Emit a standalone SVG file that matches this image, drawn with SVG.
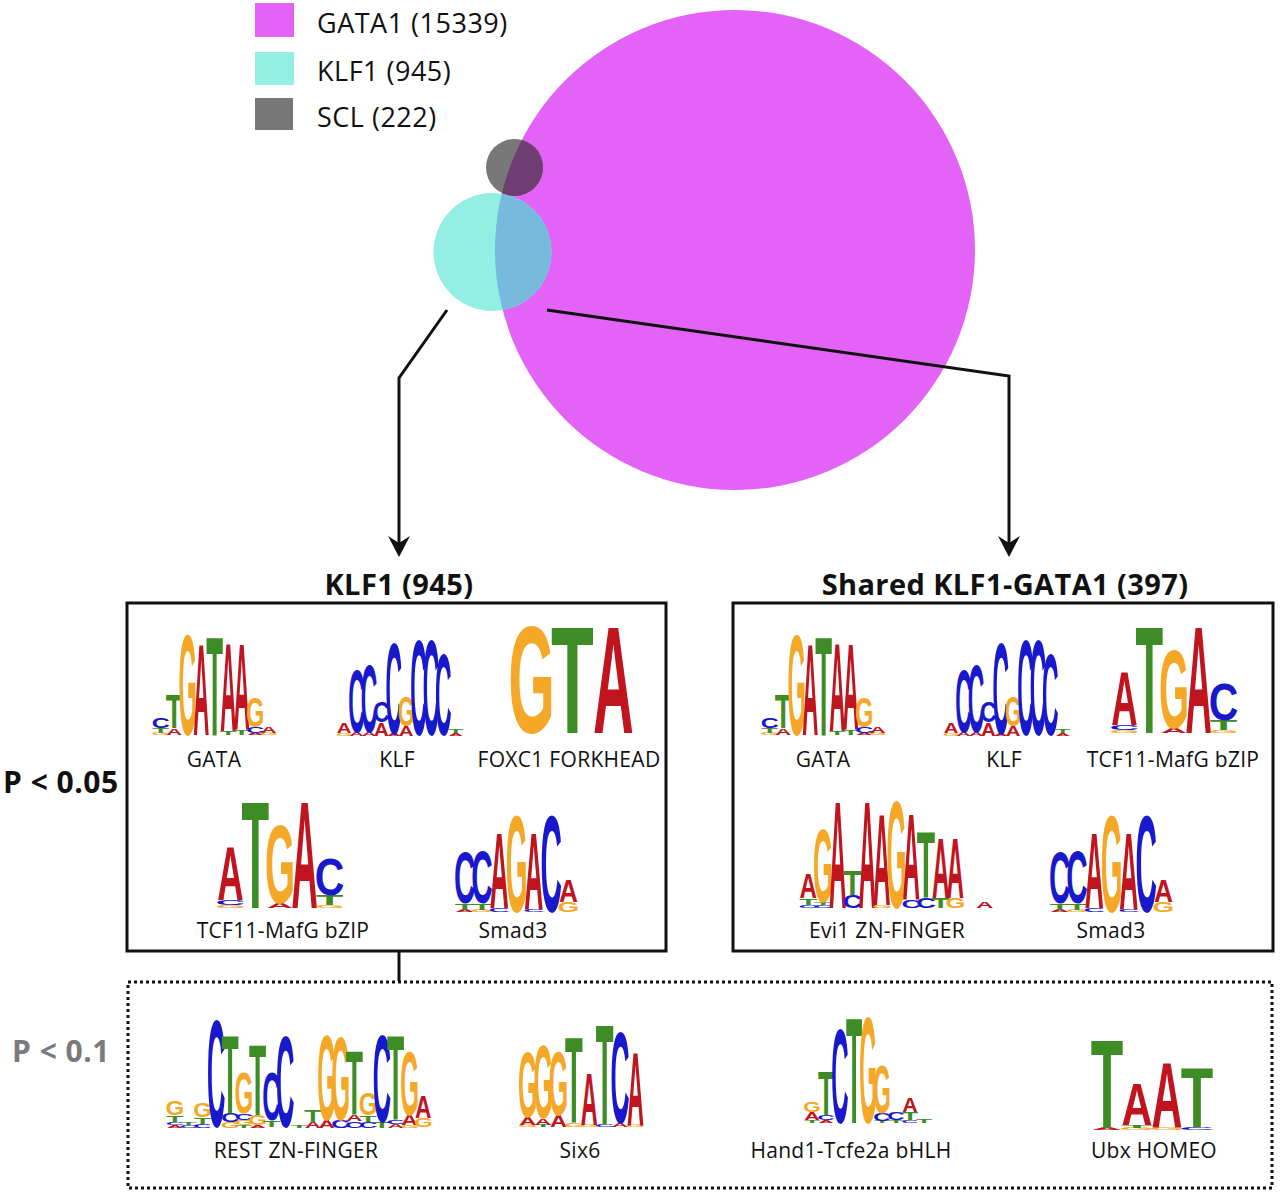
<svg xmlns="http://www.w3.org/2000/svg" xmlns:xlink="http://www.w3.org/1999/xlink" width="1280" height="1192" viewBox="0 0 1280 1192">
<style>
.lg text{font-family:'Liberation Sans',Arial,sans-serif;font-weight:bold;font-size:100px;text-anchor:middle}
.a{fill:#c0141e}.c{fill:#1818cc}.g{fill:#f5a828}.t{fill:#3d8c26}
.lbl{font-family:'Open Sans','Liberation Sans',sans-serif;font-size:21px;letter-spacing:0.3px;fill:#111;text-anchor:middle}
.leg{font-family:'Open Sans','Liberation Sans',sans-serif;font-size:27px;letter-spacing:0.5px;fill:#111}
.ttl{font-family:'Open Sans','Liberation Sans',sans-serif;font-weight:bold;font-size:29px;letter-spacing:0.4px;fill:#111;text-anchor:middle}
.pv{font-family:'Open Sans','Liberation Sans',sans-serif;font-weight:bold;font-size:30px;letter-spacing:0.5px}
.box{fill:none;stroke:#111;stroke-width:3}
.conn path{fill:none;stroke:#111;stroke-width:3}
</style>
<defs>
<marker id="arr" markerUnits="userSpaceOnUse" markerWidth="30" markerHeight="30" viewBox="-25 -15 30 30" refX="-9" refY="0" orient="auto">
<path d="M0 0 L-21 -11 L-14 0 L-21 11 Z" fill="#111"/>
</marker>
<clipPath id="clipG"><circle cx="735" cy="250" r="240"/></clipPath>
<g id="lgGATA" class="lg">
<text class="g" transform="translate(6.75 0) scale(.235 .028)">G</text>
<text class="t" transform="translate(6.75 -2) scale(.275 .069)">T</text>
<text class="c" transform="translate(6.75 -7) scale(.25 .139)">C</text>
<text class="a" transform="translate(20.25 0) scale(.222 .097)">A</text>
<text class="t" transform="translate(20.25 -7) scale(.275 .486)">T</text>
<text class="g" transform="translate(33.75 0) scale(.235 1.431)">G</text>
<text class="a" transform="translate(47.25 0) scale(.222 1.292)">A</text>
<text class="t" transform="translate(60.75 0) scale(.275 1.417)">T</text>
<text class="t" transform="translate(74.25 0) scale(.275 .056)">T</text>
<text class="a" transform="translate(74.25 -4) scale(.222 1.264)">A</text>
<text class="t" transform="translate(87.75 0) scale(.275 .069)">T</text>
<text class="a" transform="translate(87.75 -5) scale(.222 1.222)">A</text>
<text class="a" transform="translate(101.25 0) scale(.222 .028)">A</text>
<text class="c" transform="translate(101.25 -2) scale(.25 .083)">C</text>
<text class="g" transform="translate(101.25 -8) scale(.235 .431)">G</text>
<text class="g" transform="translate(114.75 0) scale(.235 .028)">G</text>
<text class="a" transform="translate(114.75 -2) scale(.222 .097)">A</text>
</g>
<g id="lgKLF" class="lg">
<text class="g" transform="translate(6.2 0) scale(.216 .042)">G</text>
<text class="a" transform="translate(6.2 -3) scale(.204 .139)">A</text>
<text class="a" transform="translate(18.6 0) scale(.204 .056)">A</text>
<text class="c" transform="translate(18.6 -4) scale(.23 .889)">C</text>
<text class="a" transform="translate(31 0) scale(.204 .056)">A</text>
<text class="c" transform="translate(31 -4) scale(.23 .972)">C</text>
<text class="a" transform="translate(43.4 0) scale(.204 .181)">A</text>
<text class="c" transform="translate(43.4 -14) scale(.23 .292)">C</text>
<text class="a" transform="translate(55.8 0) scale(.204 .028)">A</text>
<text class="c" transform="translate(55.8 -2) scale(.23 1.306)">C</text>
<text class="a" transform="translate(68.2 0) scale(.204 .139)">A</text>
<text class="g" transform="translate(68.2 -10) scale(.216 .431)">G</text>
<text class="c" transform="translate(80.6 -1) scale(.23 1.361)">C</text>
<text class="c" transform="translate(93 -1) scale(.23 1.361)">C</text>
<text class="c" transform="translate(105.4 -1) scale(.23 1.153)">C</text>
<text class="a" transform="translate(117.8 0) scale(.204 .042)">A</text>
<text class="t" transform="translate(117.8 -3) scale(.253 .056)">T</text>
</g>
<g id="lgTCF" class="lg">
<text class="g" transform="translate(12.4 0) scale(.386 .042)">G</text>
<text class="c" transform="translate(12.4 -3) scale(.410 .069)">C</text>
<text class="a" transform="translate(12.4 -8) scale(.365 .764)">A</text>
<text class="t" transform="translate(37.2 0) scale(.452 1.528)">T</text>
<text class="a" transform="translate(62 0) scale(.365 .069)">A</text>
<text class="g" transform="translate(62 -5) scale(.386 1.111)">G</text>
<text class="a" transform="translate(86.8 0) scale(.365 1.528)">A</text>
<text class="g" transform="translate(111.6 0) scale(.386 .042)">G</text>
<text class="t" transform="translate(111.6 -3) scale(.452 .139)">T</text>
<text class="c" transform="translate(111.6 -13) scale(.410 .514)">C</text>
</g>
<g id="lgSMAD" class="lg">
<text class="a" transform="translate(8.65 0) scale(.263 .028)">A</text>
<text class="t" transform="translate(8.65 -2) scale(.327 .097)">T</text>
<text class="c" transform="translate(8.65 -9) scale(.297 .722)">C</text>
<text class="g" transform="translate(25.95 0) scale(.279 .028)">G</text>
<text class="t" transform="translate(25.95 -2) scale(.327 .097)">T</text>
<text class="c" transform="translate(25.95 -9) scale(.297 .75)">C</text>
<text class="c" transform="translate(43.25 0) scale(.297 .056)">C</text>
<text class="a" transform="translate(43.25 -4) scale(.263 1.083)">A</text>
<text class="g" transform="translate(60.55 0) scale(.279 1.375)">G</text>
<text class="c" transform="translate(77.85 0) scale(.297 .042)">C</text>
<text class="a" transform="translate(77.85 -3) scale(.263 1.097)">A</text>
<text class="c" transform="translate(95.15 0) scale(.297 1.375)">C</text>
<text class="g" transform="translate(112.45 0) scale(.279 .139)">G</text>
<text class="a" transform="translate(112.45 -10) scale(.263 .306)">A</text>
</g>
</defs>
<rect width="1280" height="1192" fill="#fff"/>

<g id="venn">
<circle cx="735" cy="250" r="240" fill="#e363f6"/>
<circle cx="492.5" cy="252" r="59" fill="#93eee4"/>
<circle cx="514.5" cy="167.5" r="28.5" fill="#787878"/>
<circle cx="492.5" cy="252" r="59" fill="#78b9de" clip-path="url(#clipG)"/>
<circle cx="514.5" cy="167.5" r="28.5" fill="#6e3e73" clip-path="url(#clipG)"/>
</g>

<g id="legend">
<rect x="255" y="3" width="39" height="34" fill="#e363f6"/>
<rect x="255" y="52" width="39" height="33" fill="#93eee4"/>
<rect x="255" y="98" width="38" height="32" fill="#787878"/>
<text class="leg" x="317" y="33">GATA1 (15339)</text>
<text class="leg" x="317" y="81">KLF1 (945)</text>
<text class="leg" x="317" y="127">SCL (222)</text>
</g>

<g class="conn" id="connectors">
<path d="M447 310 L399 378 L399 548" marker-end="url(#arr)"/>
<path d="M547 310 L1009 376 L1009 548" marker-end="url(#arr)"/>
<path d="M399 952 L399 981"/>
</g>

<g id="klf1-box">
<text class="ttl" x="399" y="595">KLF1 (945)</text>
<rect class="box" x="127" y="603" width="539" height="348"/>
<use xlink:href="#lgGATA" x="154" y="735"/>
<use xlink:href="#lgKLF" x="338" y="736"/>
<g class="lg" transform="translate(511 733)">
<text class="g" transform="translate(20.5 0) scale(.6 1.528)">G</text>
<text class="t" transform="translate(61.5 0) scale(.70 1.528)">T</text>
<text class="a" transform="translate(102.5 0) scale(.565 1.528)">A</text>
</g>
<use xlink:href="#lgTCF" x="218" y="908"/>
<use xlink:href="#lgSMAD" x="456" y="912"/>
<text class="lbl" x="214" y="767">GATA</text>
<text class="lbl" x="397" y="767">KLF</text>
<text class="lbl" x="569" y="767">FOXC1 FORKHEAD</text>
<text class="lbl" x="283" y="938">TCF11-MafG bZIP</text>
<text class="lbl" x="513" y="938">Smad3</text>
</g>

<g id="shared-box">
<text class="ttl" x="1005" y="595">Shared KLF1-GATA1 (397)</text>
<rect class="box" x="733" y="603" width="540" height="348"/>
<use xlink:href="#lgGATA" x="763" y="735"/>
<use xlink:href="#lgKLF" x="945" y="736"/>
<use xlink:href="#lgTCF" x="1112" y="733"/>
<g class="lg" transform="translate(801 908)">
<text class="c" transform="translate(7.35 0) scale(.272 .042)">C</text>
<text class="t" transform="translate(7.35 -3) scale(.30 .097)">T</text>
<text class="a" transform="translate(7.35 -10) scale(.242 .347)">A</text>
<text class="c" transform="translate(22.05 0) scale(.272 .042)">C</text>
<text class="t" transform="translate(22.05 -3) scale(.30 .042)">T</text>
<text class="g" transform="translate(22.05 -6) scale(.256 1.042)">G</text>
<text class="a" transform="translate(36.75 0) scale(.242 1.528)">A</text>
<text class="c" transform="translate(51.45 0) scale(.272 .181)">C</text>
<text class="t" transform="translate(51.45 -13) scale(.30 .347)">T</text>
<text class="a" transform="translate(66.15 0) scale(.242 1.528)">A</text>
<text class="g" transform="translate(80.85 0) scale(.256 .042)">G</text>
<text class="a" transform="translate(80.85 -3) scale(.242 1.292)">A</text>
<text class="g" transform="translate(95.55 0) scale(.256 1.528)">G</text>
<text class="c" transform="translate(110.25 0) scale(.272 .111)">C</text>
<text class="a" transform="translate(110.25 -8) scale(.242 1.222)">A</text>
<text class="c" transform="translate(124.95 0) scale(.272 .139)">C</text>
<text class="t" transform="translate(124.95 -10) scale(.30 .944)">T</text>
<text class="t" transform="translate(139.65 0) scale(.30 .139)">T</text>
<text class="a" transform="translate(139.65 -10) scale(.242 .847)">A</text>
<text class="g" transform="translate(154.35 0) scale(.256 .139)">G</text>
<text class="a" transform="translate(154.35 -10) scale(.242 .847)">A</text>
<text class="a" transform="translate(183.75 0) scale(.242 .083)">A</text>
</g>
<use xlink:href="#lgSMAD" x="1051" y="912"/>
<text class="lbl" x="823" y="767">GATA</text>
<text class="lbl" x="1004" y="767">KLF</text>
<text class="lbl" x="1173" y="767">TCF11-MafG bZIP</text>
<text class="lbl" x="887" y="938">Evi1 ZN-FINGER</text>
<text class="lbl" x="1111" y="938">Smad3</text>
</g>

<g id="p01-box">
<rect x="128" y="982" width="1144" height="206" fill="none" stroke="#111" stroke-width="3" stroke-dasharray="3 3"/>
<g class="lg" transform="translate(168 1128)">
<text class="a" transform="translate(6.9 0) scale(.228 .042)">A</text>
<text class="c" transform="translate(6.9 -3) scale(.255 .042)">C</text>
<text class="t" transform="translate(6.9 -6) scale(.282 .097)">T</text>
<text class="g" transform="translate(6.9 -13) scale(.241 .208)">G</text>
<text class="c" transform="translate(20.7 0) scale(.255 .042)">C</text>
<text class="t" transform="translate(20.7 -3) scale(.282 .042)">T</text>
<text class="c" transform="translate(34.5 0) scale(.255 .056)">C</text>
<text class="t" transform="translate(34.5 -4) scale(.282 .097)">T</text>
<text class="g" transform="translate(34.5 -11) scale(.241 .208)">G</text>
<text class="c" transform="translate(48.3 -1) scale(.255 1.528)">C</text>
<text class="g" transform="translate(62.1 0) scale(.241 .083)">G</text>
<text class="c" transform="translate(62.1 -6) scale(.255 .125)">C</text>
<text class="t" transform="translate(62.1 -15) scale(.282 1.111)">T</text>
<text class="t" transform="translate(75.9 0) scale(.282 .042)">T</text>
<text class="g" transform="translate(75.9 -3) scale(.241 .069)">G</text>
<text class="c" transform="translate(75.9 -8) scale(.255 .097)">C</text>
<text class="g" transform="translate(75.9 -15) scale(.241 .569)">G</text>
<text class="a" transform="translate(89.7 0) scale(.228 .042)">A</text>
<text class="g" transform="translate(89.7 -3) scale(.241 .139)">G</text>
<text class="t" transform="translate(89.7 -13) scale(.282 1.0)">T</text>
<text class="t" transform="translate(103.5 -1) scale(.282 .097)">T</text>
<text class="c" transform="translate(103.5 -8) scale(.255 .694)">C</text>
<text class="c" transform="translate(117.3 -1) scale(.255 1.306)">C</text>
<text class="t" transform="translate(131.1 0) scale(.282 .028)">T</text>
<text class="a" transform="translate(144.9 0) scale(.228 .083)">A</text>
<text class="t" transform="translate(144.9 -6) scale(.282 .167)">T</text>
<text class="a" transform="translate(158.7 0) scale(.228 .111)">A</text>
<text class="g" transform="translate(158.7 -8) scale(.241 1.208)">G</text>
<text class="c" transform="translate(172.5 0) scale(.255 .111)">C</text>
<text class="g" transform="translate(172.5 -8) scale(.241 1.181)">G</text>
<text class="c" transform="translate(186.3 0) scale(.255 .097)">C</text>
<text class="a" transform="translate(186.3 -7) scale(.228 .083)">A</text>
<text class="t" transform="translate(186.3 -13) scale(.282 .903)">T</text>
<text class="c" transform="translate(200.1 0) scale(.255 .083)">C</text>
<text class="t" transform="translate(200.1 -6) scale(.282 .097)">T</text>
<text class="g" transform="translate(200.1 -13) scale(.241 .306)">G</text>
<text class="t" transform="translate(213.9 0) scale(.282 .083)">T</text>
<text class="c" transform="translate(213.9 -6) scale(.255 1.25)">C</text>
<text class="a" transform="translate(227.7 0) scale(.228 .056)">A</text>
<text class="c" transform="translate(227.7 -4) scale(.255 .056)">C</text>
<text class="t" transform="translate(227.7 -8) scale(.282 1.208)">T</text>
<text class="g" transform="translate(241.5 0) scale(.241 .042)">G</text>
<text class="a" transform="translate(241.5 -3) scale(.228 .139)">A</text>
<text class="g" transform="translate(241.5 -13) scale(.241 .903)">G</text>
<text class="g" transform="translate(255.3 -1) scale(.241 .125)">G</text>
<text class="a" transform="translate(255.3 -10) scale(.228 .319)">A</text>
</g>
<g class="lg" transform="translate(520 1127)">
<text class="g" transform="translate(7.7 0) scale(.249 .028)">G</text>
<text class="a" transform="translate(7.7 -2) scale(.235 .111)">A</text>
<text class="g" transform="translate(7.7 -10) scale(.249 .931)">G</text>
<text class="t" transform="translate(23.1 0) scale(.291 .028)">T</text>
<text class="a" transform="translate(23.1 -2) scale(.235 .097)">A</text>
<text class="g" transform="translate(23.1 -9) scale(.249 1.042)">G</text>
<text class="a" transform="translate(38.5 0) scale(.235 .167)">A</text>
<text class="g" transform="translate(38.5 -12) scale(.249 .903)">G</text>
<text class="g" transform="translate(53.9 0) scale(.249 .056)">G</text>
<text class="t" transform="translate(53.9 -4) scale(.291 1.222)">T</text>
<text class="g" transform="translate(69.3 0) scale(.249 .028)">G</text>
<text class="a" transform="translate(69.3 -2) scale(.235 .736)">A</text>
<text class="c" transform="translate(84.7 0) scale(.264 .028)">C</text>
<text class="t" transform="translate(84.7 -2) scale(.291 1.431)">T</text>
<text class="a" transform="translate(100.1 0) scale(.235 .056)">A</text>
<text class="c" transform="translate(100.1 -4) scale(.264 1.292)">C</text>
<text class="g" transform="translate(115.5 0) scale(.249 .028)">G</text>
<text class="a" transform="translate(115.5 -2) scale(.235 1.042)">A</text>
</g>
<g class="lg" transform="translate(805 1123)">
<text class="t" transform="translate(7 0) scale(.265 .042)">T</text>
<text class="a" transform="translate(7 -3) scale(.214 .111)">A</text>
<text class="g" transform="translate(7 -11) scale(.226 .139)">G</text>
<text class="a" transform="translate(21 0) scale(.214 .042)">A</text>
<text class="c" transform="translate(21 -3) scale(.240 .069)">C</text>
<text class="t" transform="translate(21 -8) scale(.265 .625)">T</text>
<text class="c" transform="translate(35 0) scale(.240 1.333)">C</text>
<text class="t" transform="translate(49 0) scale(.265 1.5)">T</text>
<text class="g" transform="translate(63 0) scale(.226 1.5)">G</text>
<text class="t" transform="translate(77 0) scale(.265 .028)">T</text>
<text class="c" transform="translate(77 -2) scale(.240 .111)">C</text>
<text class="g" transform="translate(77 -10) scale(.226 .694)">G</text>
<text class="t" transform="translate(91 0) scale(.265 .042)">T</text>
<text class="c" transform="translate(91 -3) scale(.240 .111)">C</text>
<text class="c" transform="translate(105 0) scale(.240 .042)">C</text>
<text class="t" transform="translate(105 -3) scale(.265 .111)">T</text>
<text class="a" transform="translate(105 -11) scale(.214 .208)">A</text>
<text class="t" transform="translate(119 0) scale(.265 .056)">T</text>
</g>
<g class="lg" transform="translate(1092 1130)">
<text class="a" transform="translate(15 0) scale(.428 .028)">A</text>
<text class="t" transform="translate(15 -2) scale(.532 1.264)">T</text>
<text class="g" transform="translate(45 0) scale(.454 .028)">G</text>
<text class="t" transform="translate(45 -2) scale(.532 .042)">T</text>
<text class="a" transform="translate(45 -5) scale(.428 .597)">A</text>
<text class="g" transform="translate(75 0) scale(.454 .042)">G</text>
<text class="a" transform="translate(75 -3) scale(.428 .931)">A</text>
<text class="c" transform="translate(105 0) scale(.482 .042)">C</text>
<text class="t" transform="translate(105 -3) scale(.532 .861)">T</text>
</g>
<text class="lbl" x="296" y="1158">REST ZN-FINGER</text>
<text class="lbl" x="580" y="1158">Six6</text>
<text class="lbl" x="851" y="1158">Hand1-Tcfe2a bHLH</text>
<text class="lbl" x="1154" y="1158">Ubx HOMEO</text>
</g>

<g id="pvalues">
<text class="pv" x="3" y="793" fill="#111">P &lt; 0.05</text>
<text class="pv" x="12" y="1062" fill="#7a7a7a">P &lt; 0.1</text>
</g>
</svg>
